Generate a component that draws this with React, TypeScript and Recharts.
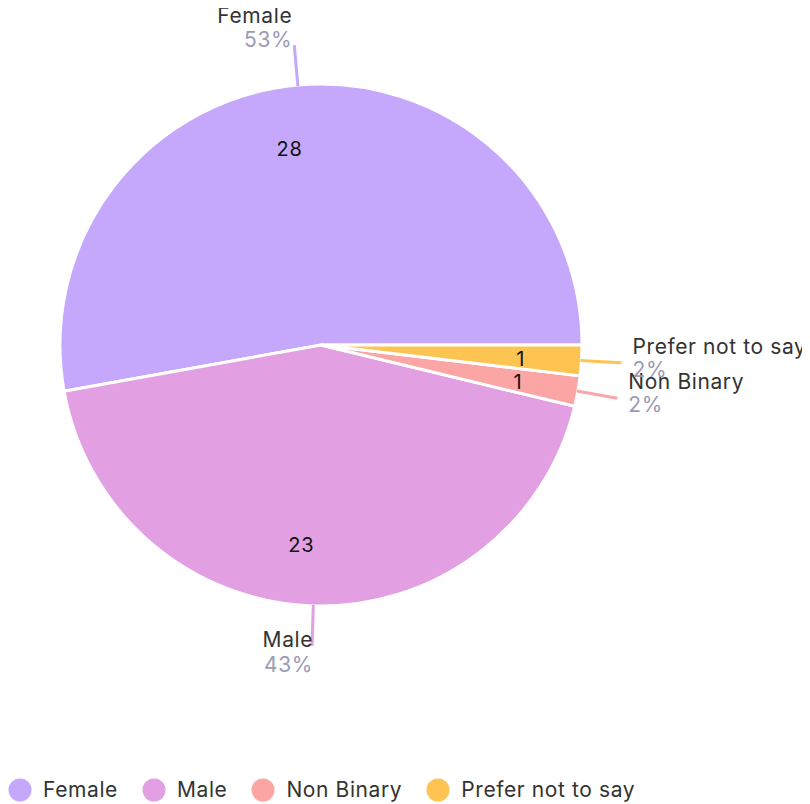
import React from 'react';
import { PieChart, Pie, Cell, Legend } from 'recharts';

const categories = ['Female', 'Male', 'Non Binary', 'Prefer not to say'];
const counts = [28, 23, 1, 1];
const colors = ['#c5a8fc', '#e29fe2', '#fca5a5', '#fdc452'];

const data = categories.map((name, i) => ({ name, value: counts[i] }));

const RADIAN = Math.PI / 180;
const FONT = 'Inter, "Noto Sans", sans-serif';
const SPACING = 0.6;

const renderLabel = (props: any) => {
  const { cx, cy, midAngle, outerRadius, percent, name, value, index } = props;
  const color = colors[index];
  const cos = Math.cos(-midAngle * RADIAN);
  const sin = Math.sin(-midAngle * RADIAN);

  // outer label line
  const sx = cx + (outerRadius - 1) * cos;
  const sy = cy + (outerRadius - 1) * sin;
  const ex = cx + (outerRadius + 40) * cos;
  const ey = cy + (outerRadius + 40) * sin;

  // inner value
  const ir = outerRadius * 0.76;
  const ix = cx + ir * cos + (value < 10 ? 6 : -1);
  const iy = cy + ir * sin + 2;

  const pct = `${Math.round(percent * 100)}%`;

  let nameX = ex, nameY = ey, pctX = ex, pctY = ey;
  let anchor: 'start' | 'end' = 'start';
  if (Math.abs(cos) >= Math.abs(sin)) {
    anchor = cos > 0 ? 'start' : 'end';
    nameX = pctX = ex + (cos > 0 ? 11 : -11);
    nameY = ey - 9;
    pctY = ey + 14;
  } else if (sin < 0) {
    anchor = 'end';
    nameX = pctX = ex - 2;
    nameY = ey - 22;
    pctY = ey + 2;
  } else {
    anchor = 'end';
    nameX = pctX = ex + 1;
    nameY = ey + 1;
    pctY = ey + 26;
  }

  return (
    <g>
      <line x1={sx} y1={sy} x2={ex} y2={ey} stroke={color} strokeWidth={3} />
      <text x={nameX} y={nameY} textAnchor={anchor} fill="#333333" fontSize={21} letterSpacing={SPACING} fontFamily={FONT}>
        {name}
      </text>
      <text x={pctX} y={pctY} textAnchor={anchor} fill="#9b9bb6" fontSize={21} letterSpacing={SPACING} fontFamily={FONT}>
        {pct}
      </text>
      <text x={ix} y={iy} textAnchor="end" dominantBaseline="central" fill="#111111" fontSize={20} letterSpacing={SPACING} fontFamily={FONT}>
        {value}
      </text>
    </g>
  );
};

const renderLegend = () => (
  <div style={{ display: 'flex', alignItems: 'center', fontFamily: FONT, fontSize: 21, letterSpacing: SPACING, color: '#333333' }}>
    {categories.map((c, i) => (
      <div key={c} style={{ display: 'flex', alignItems: 'center', marginRight: 24 }}>
        <svg width={24} height={24} style={{ marginRight: 11 }}>
          <circle cx={12} cy={12} r={11.5} fill={colors[i]} />
        </svg>
        <span>{c}</span>
      </div>
    ))}
  </div>
);

export default function App() {
  return (
    <div style={{ width: 802, height: 796, fontFamily: FONT }}>
      <PieChart width={802} height={796}>
        <Pie
          data={data}
          dataKey="value"
          nameKey="name"
          cx={308}
          cy={332}
          outerRadius={261}
          startAngle={0}
          endAngle={360}
          stroke="#ffffff"
          strokeWidth={3}
          label={renderLabel}
          labelLine={false}
          isAnimationActive={false}
        >
          {data.map((d, i) => (
            <Cell key={d.name} fill={colors[i]} />
          ))}
        </Pie>
        <Legend
          content={renderLegend}
          verticalAlign="bottom"
          align="left"
          wrapperStyle={{ left: 0, bottom: 2 }}
        />
      </PieChart>
    </div>
  );
}
